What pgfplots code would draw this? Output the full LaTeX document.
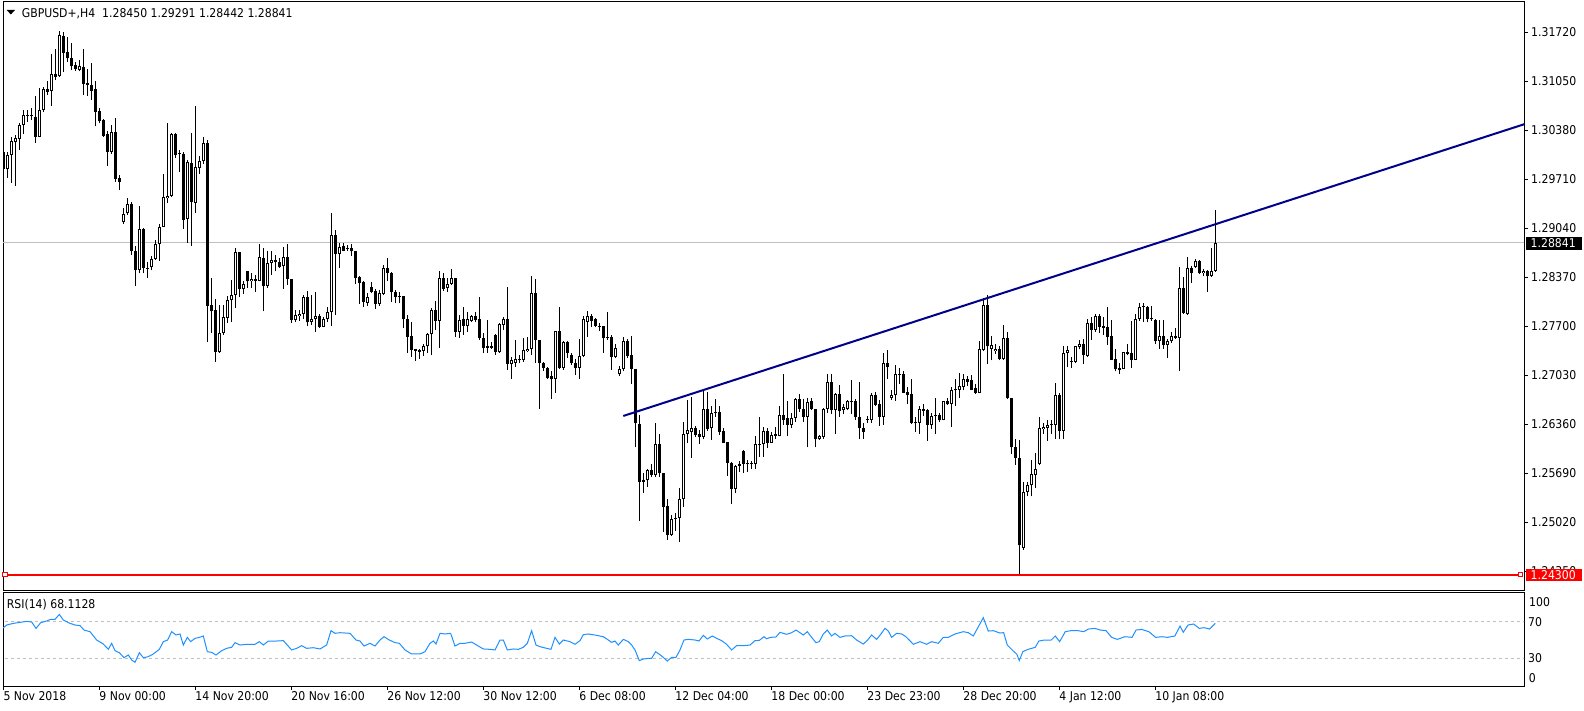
\documentclass[border=0pt]{standalone}
\usepackage{fontspec}
\usepackage{pgfplots}
\usepackage{pgfplotstable}
\pgfplotsset{compat=1.18}
\newfontfamily\labfam{DejaVu Sans Condensed}
\newcommand\labf{\labfam\fontsize{12.1pt}{14pt}\selectfont}
\definecolor{trend}{RGB}{0,0,139}
\definecolor{rsiblue}{RGB}{30,144,255}
\definecolor{silv}{RGB}{192,192,192}

\pgfplotstableread{
i O H L C
0 1.3008 1.3015 1.2983 1.2985
1 1.2985 1.3008 1.2973 1.3004
2 1.3004 1.3028 1.2966 1.3023
3 1.3022 1.3031 1.2962 1.3027
4 1.3026 1.3047 1.3011 1.3045
5 1.3045 1.3065 1.3033 1.3058
6 1.3059 1.3065 1.3049 1.3057
7 1.3059 1.3068 1.3052 1.3057
8 1.3056 1.3084 1.3020 1.3029
9 1.3029 1.3095 1.3028 1.3066
10 1.3066 1.3097 1.3062 1.3094
11 1.3094 1.3105 1.3086 1.3090
12 1.3091 1.3142 1.3071 1.3114
13 1.3114 1.3149 1.3106 1.3111
14 1.3112 1.3173 1.3110 1.3168
15 1.3167 1.3172 1.3117 1.3143
16 1.3145 1.3165 1.3131 1.3136
17 1.3137 1.3157 1.3120 1.3126
18 1.3127 1.3131 1.3119 1.3122
19 1.3120 1.3134 1.3118 1.3125
20 1.3124 1.3149 1.3086 1.3101
21 1.3102 1.3122 1.3085 1.3100
22 1.3100 1.3129 1.3079 1.3092
23 1.3094 1.3105 1.3043 1.3063
24 1.3064 1.3068 1.3047 1.3050
25 1.3051 1.3053 1.3029 1.3030
26 1.3032 1.3036 1.2989 1.3008
27 1.3008 1.3045 1.3005 1.3035
28 1.3035 1.3055 1.2967 1.2971
29 1.2972 1.2976 1.2956 1.2967
30 1.2912 1.2931 1.2910 1.2923
31 1.2924 1.2945 1.2922 1.2937
32 1.2937 1.2940 1.2867 1.2872
33 1.2873 1.2880 1.2825 1.2847
34 1.2847 1.2934 1.2842 1.2903
35 1.2903 1.2904 1.2842 1.2849
36 1.2850 1.2857 1.2836 1.2848
37 1.2850 1.2866 1.2846 1.2862
38 1.2862 1.2888 1.2860 1.2882
39 1.2882 1.2910 1.2859 1.2906
40 1.2906 1.2978 1.2905 1.2946
41 1.2945 1.3047 1.2938 1.2948
42 1.2948 1.3034 1.2947 1.3033
43 1.3032 1.3034 1.3000 1.3004
44 1.3006 1.3011 1.2980 1.3005
45 1.3005 1.3008 1.2903 1.2915
46 1.2916 1.2997 1.2884 1.2994
47 1.2993 1.3034 1.2880 1.2939
48 1.2938 1.3071 1.2924 1.2987
49 1.2986 1.3002 1.2978 1.2996
50 1.2995 1.3029 1.2992 1.3020
51 1.3020 1.3024 1.2748 1.2798
52 1.2799 1.2836 1.2761 1.2790
53 1.2792 1.2807 1.2721 1.2734
54 1.2734 1.2799 1.2733 1.2760
55 1.2760 1.2799 1.2758 1.2783
56 1.2781 1.2811 1.2774 1.2806
57 1.2805 1.2833 1.2775 1.2813
58 1.2813 1.2876 1.2795 1.2871
59 1.2871 1.2871 1.2809 1.2821
60 1.2821 1.2832 1.2814 1.2827
61 1.2845 1.2845 1.2822 1.2831
62 1.2831 1.2842 1.2822 1.2834
63 1.2834 1.2840 1.2817 1.2832
64 1.2832 1.2882 1.2831 1.2864
65 1.2863 1.2877 1.2790 1.2825
66 1.2825 1.2873 1.2822 1.2856
67 1.2856 1.2872 1.2840 1.2860
68 1.2860 1.2867 1.2845 1.2857
69 1.2858 1.2863 1.2849 1.2851
70 1.2852 1.2878 1.2821 1.2864
71 1.2864 1.2882 1.2826 1.2834
72 1.2834 1.2834 1.2774 1.2778
73 1.2778 1.2792 1.2775 1.2785
74 1.2784 1.2792 1.2777 1.2787
75 1.2787 1.2812 1.2780 1.2809
76 1.2809 1.2818 1.2770 1.2775
77 1.2775 1.2812 1.2772 1.2779
78 1.2779 1.2816 1.2762 1.2784
79 1.2784 1.2787 1.2767 1.2769
80 1.2769 1.2783 1.2768 1.2780
81 1.2780 1.2796 1.2776 1.2789
82 1.2789 1.2925 1.2770 1.2894
83 1.2894 1.2901 1.2785 1.2869
84 1.2869 1.2883 1.2849 1.2878
85 1.2879 1.2883 1.2872 1.2873
86 1.2877 1.2881 1.2873 1.2875
87 1.2877 1.2882 1.2866 1.2872
88 1.2873 1.2873 1.2828 1.2836
89 1.2837 1.2838 1.2800 1.2829
90 1.2830 1.2831 1.2796 1.2803
91 1.2802 1.2815 1.2798 1.2809
92 1.2823 1.2830 1.2815 1.2817
93 1.2818 1.2820 1.2793 1.2800
94 1.2800 1.2819 1.2798 1.2815
95 1.2814 1.2853 1.2812 1.2850
96 1.2849 1.2863 1.2831 1.2843
97 1.2843 1.2844 1.2803 1.2816
98 1.2817 1.2819 1.2801 1.2809
99 1.2811 1.2816 1.2801 1.2810
100 1.2811 1.2811 1.2767 1.2779
101 1.2779 1.2785 1.2733 1.2755
102 1.2756 1.2776 1.2728 1.2737
103 1.2738 1.2739 1.2722 1.2736
104 1.2737 1.2739 1.2725 1.2735
105 1.2736 1.2745 1.2729 1.2743
106 1.2742 1.2760 1.2733 1.2759
107 1.2759 1.2794 1.2730 1.2792
108 1.2792 1.2804 1.2765 1.2777
109 1.2777 1.2845 1.2740 1.2835
110 1.2835 1.2842 1.2818 1.2821
111 1.2822 1.2835 1.2817 1.2828
112 1.2828 1.2848 1.2826 1.2835
113 1.2835 1.2836 1.2755 1.2762
114 1.2762 1.2785 1.2753 1.2778
115 1.2780 1.2796 1.2758 1.2770
116 1.2770 1.2789 1.2762 1.2780
117 1.2777 1.2785 1.2776 1.2784
118 1.2784 1.2789 1.2776 1.2778
119 1.2779 1.2809 1.2751 1.2753
120 1.2754 1.2760 1.2733 1.2740
121 1.2743 1.2778 1.2733 1.2740
122 1.2743 1.2748 1.2739 1.2740
123 1.2758 1.2759 1.2731 1.2734
124 1.2734 1.2774 1.2733 1.2773
125 1.2772 1.2783 1.2765 1.2779
126 1.2779 1.2823 1.2710 1.2718
127 1.2718 1.2728 1.2698 1.2724
128 1.2720 1.2751 1.2714 1.2725
129 1.2723 1.2731 1.2719 1.2725
130 1.2723 1.2753 1.2721 1.2737
131 1.2736 1.2755 1.2734 1.2739
132 1.2739 1.2838 1.2730 1.2815
133 1.2815 1.2834 1.2719 1.2751
134 1.2751 1.2751 1.2657 1.2719
135 1.2719 1.2721 1.2708 1.2713
136 1.2713 1.2714 1.2698 1.2699
137 1.2701 1.2708 1.2670 1.2697
138 1.2697 1.2763 1.2679 1.2763
139 1.2763 1.2796 1.2711 1.2712
140 1.2712 1.2750 1.2710 1.2748
141 1.2748 1.2750 1.2726 1.2733
142 1.2731 1.2733 1.2717 1.2720
143 1.2720 1.2725 1.2703 1.2713
144 1.2713 1.2752 1.2698 1.2729
145 1.2729 1.2784 1.2728 1.2780
146 1.2776 1.2790 1.2755 1.2784
147 1.2784 1.2786 1.2769 1.2777
148 1.2780 1.2781 1.2768 1.2770
149 1.2770 1.2774 1.2763 1.2769
150 1.2770 1.2770 1.2733 1.2753
151 1.2755 1.2789 1.2751 1.2754
152 1.2755 1.2758 1.2710 1.2728
153 1.2728 1.2746 1.2726 1.2740
154 1.2704 1.2715 1.2701 1.2711
155 1.2711 1.2755 1.2709 1.2750
156 1.2750 1.2752 1.2726 1.2729
157 1.2730 1.2756 1.2691 1.2711
158 1.2711 1.2711 1.2604 1.2637
159 1.2636 1.2649 1.2504 1.2557
160 1.2559 1.2569 1.2542 1.2557
161 1.2559 1.2575 1.2550 1.2573
162 1.2573 1.2581 1.2564 1.2566
163 1.2566 1.2638 1.2564 1.2609
164 1.2609 1.2623 1.2564 1.2569
165 1.2569 1.2569 1.2489 1.2523
166 1.2524 1.2533 1.2478 1.2484
167 1.2484 1.2512 1.2483 1.2506
168 1.2506 1.2514 1.2490 1.2508
169 1.2508 1.2549 1.2475 1.2534
170 1.2533 1.2639 1.2523 1.2622
171 1.2622 1.2669 1.2610 1.2628
172 1.2625 1.2673 1.2590 1.2631
173 1.2631 1.2633 1.2618 1.2621
174 1.2622 1.2628 1.2609 1.2618
175 1.2618 1.2683 1.2615 1.2656
176 1.2656 1.2680 1.2627 1.2629
177 1.2630 1.2660 1.2614 1.2651
178 1.2651 1.2670 1.2646 1.2652
179 1.2652 1.2660 1.2621 1.2625
180 1.2626 1.2631 1.2610 1.2610
181 1.2611 1.2612 1.2565 1.2583
182 1.2583 1.2584 1.2527 1.2547
183 1.2547 1.2580 1.2541 1.2579
184 1.2581 1.2585 1.2571 1.2579
185 1.2599 1.2600 1.2569 1.2581
186 1.2582 1.2587 1.2571 1.2581
187 1.2581 1.2586 1.2574 1.2583
188 1.2582 1.2620 1.2575 1.2608
189 1.2607 1.2645 1.2591 1.2609
190 1.2608 1.2632 1.2591 1.2626
191 1.2626 1.2631 1.2603 1.2610
192 1.2610 1.2625 1.2610 1.2621
193 1.2620 1.2632 1.2616 1.2622
194 1.2620 1.2661 1.2619 1.2648
195 1.2648 1.2704 1.2635 1.2641
196 1.2644 1.2668 1.2619 1.2635
197 1.2634 1.2651 1.2630 1.2644
198 1.2644 1.2672 1.2639 1.2670
199 1.2670 1.2677 1.2653 1.2656
200 1.2656 1.2670 1.2639 1.2646
201 1.2646 1.2672 1.2604 1.2666
202 1.2667 1.2672 1.2655 1.2657
203 1.2657 1.2657 1.2604 1.2615
204 1.2615 1.2621 1.2614 1.2619
205 1.2618 1.2658 1.2616 1.2657
206 1.2656 1.2704 1.2651 1.2694
207 1.2694 1.2704 1.2650 1.2655
208 1.2655 1.2679 1.2622 1.2677
209 1.2677 1.2689 1.2646 1.2654
210 1.2655 1.2663 1.2650 1.2659
211 1.2657 1.2669 1.2655 1.2667
212 1.2667 1.2696 1.2650 1.2666
213 1.2667 1.2670 1.2642 1.2645
214 1.2645 1.2693 1.2616 1.2630
215 1.2630 1.2637 1.2616 1.2625
216 1.2642 1.2647 1.2638 1.2641
217 1.2641 1.2678 1.2638 1.2676
218 1.2676 1.2680 1.2660 1.2662
219 1.2663 1.2669 1.2633 1.2646
220 1.2646 1.2733 1.2635 1.2720
221 1.2720 1.2737 1.2697 1.2714
222 1.2672 1.2683 1.2669 1.2676
223 1.2675 1.2717 1.2668 1.2704
224 1.2703 1.2712 1.2691 1.2704
225 1.2704 1.2708 1.2678 1.2679
226 1.2680 1.2687 1.2663 1.2676
227 1.2677 1.2697 1.2636 1.2638
228 1.2638 1.2645 1.2625 1.2637
229 1.2638 1.2660 1.2623 1.2656
230 1.2654 1.2663 1.2647 1.2656
231 1.2655 1.2656 1.2613 1.2635
232 1.2635 1.2651 1.2629 1.2647
233 1.2647 1.2672 1.2622 1.2648
234 1.2648 1.2651 1.2639 1.2641
235 1.2641 1.2668 1.2641 1.2667
236 1.2667 1.2671 1.2662 1.2663
237 1.2664 1.2686 1.2632 1.2682
238 1.2682 1.2698 1.2661 1.2683
239 1.2683 1.2706 1.2672 1.2688
240 1.2687 1.2704 1.2682 1.2697
241 1.2697 1.2701 1.2688 1.2694
242 1.2696 1.2703 1.2682 1.2683
243 1.2685 1.2691 1.2677 1.2679
244 1.2679 1.2749 1.2678 1.2738
245 1.2737 1.2808 1.2736 1.2799
246 1.2799 1.2812 1.2718 1.2742
247 1.2738 1.2756 1.2723 1.2744
248 1.2736 1.2745 1.2732 1.2739
249 1.2739 1.2742 1.2723 1.2725
250 1.2725 1.2771 1.2724 1.2753
251 1.2753 1.2762 1.2670 1.2671
252 1.2671 1.2672 1.2595 1.2604
253 1.2604 1.2615 1.2580 1.2590
254 1.2590 1.2614 1.2430 1.2470
255 1.2466 1.2557 1.2464 1.2543
256 1.2543 1.2557 1.2537 1.2552
257 1.2552 1.2587 1.2537 1.2568
258 1.2566 1.2597 1.2549 1.2575
259 1.2581 1.2645 1.2580 1.2630
260 1.2629 1.2638 1.2623 1.2632
261 1.2631 1.2642 1.2613 1.2635
262 1.2634 1.2641 1.2623 1.2636
263 1.2634 1.2692 1.2616 1.2676
264 1.2676 1.2678 1.2615 1.2627
265 1.2627 1.2743 1.2615 1.2733
266 1.2733 1.2743 1.2714 1.2737
267 1.2722 1.2728 1.2713 1.2721
268 1.2721 1.2743 1.2719 1.2742
269 1.2741 1.2751 1.2738 1.2745
270 1.2745 1.2752 1.2718 1.2730
271 1.2729 1.2780 1.2728 1.2774
272 1.2774 1.2782 1.2751 1.2765
273 1.2765 1.2787 1.2762 1.2784
274 1.2784 1.2787 1.2761 1.2769
275 1.2770 1.2783 1.2758 1.2767
276 1.2768 1.2796 1.2744 1.2755
277 1.2756 1.2778 1.2723 1.2724
278 1.2725 1.2738 1.2708 1.2711
279 1.2712 1.2719 1.2705 1.2710
280 1.2711 1.2735 1.2711 1.2734
281 1.2734 1.2746 1.2730 1.2732
282 1.2733 1.2777 1.2713 1.2724
283 1.2724 1.2787 1.2723 1.2780
284 1.2780 1.2802 1.2777 1.2796
285 1.2796 1.2801 1.2776 1.2797
286 1.2796 1.2797 1.2775 1.2780
287 1.2781 1.2797 1.2777 1.2779
288 1.2778 1.2780 1.2746 1.2749
289 1.2749 1.2778 1.2738 1.2756
290 1.2756 1.2778 1.2739 1.2744
291 1.2744 1.2752 1.2726 1.2750
292 1.2749 1.2762 1.2747 1.2756
293 1.2754 1.2767 1.2752 1.2756
294 1.2754 1.2850 1.2708 1.2822
295 1.2822 1.2837 1.2787 1.2788
296 1.2786 1.2864 1.2785 1.2849
297 1.2849 1.2852 1.2829 1.2843
298 1.2851 1.2861 1.2849 1.2859
299 1.2859 1.2860 1.2841 1.2842
300 1.2842 1.2848 1.2838 1.2845
301 1.2845 1.2847 1.2817 1.2838
302 1.2838 1.2876 1.2837 1.2845
303 1.28450 1.29291 1.28442 1.28841
}\candles

\pgfplotstableread{
i v
-0.16 62.8
0.84 66.4
2.51 68.2
4.18 69.3
5.84 70.4
7.09 69.7
8.18 62.7
9.34 68.9
10.84 70.8
11.84 72.6
12.93 72.6
14.01 78.0
15.01 71.9
16.68 68.2
17.93 66.4
19.18 65.7
20.18 60.9
21.68 59.1
23.34 50.0
25.01 45.6
26.26 39.8
27.09 46.4
27.93 38.3
29.01 36.1
30.18 30.7
31.26 33.6
32.09 28.1
32.93 25.6
34.01 36.1
35.01 30.7
36.26 31.8
37.51 34.7
39.01 39.8
40.01 48.2
41.09 50.0
42.09 59.1
43.18 55.5
44.18 56.6
45.01 44.5
46.01 52.9
46.84 48.2
47.93 51.8
49.01 52.9
50.01 54.4
51.01 37.2
52.09 36.5
53.18 33.6
54.59 38.3
55.84 40.9
57.09 42.0
57.93 47.1
59.18 44.5
60.84 45.3
62.93 45.3
64.01 48.2
65.01 44.5
66.26 48.9
68.34 48.9
70.01 49.3
72.09 39.1
73.34 40.9
74.59 43.8
75.84 40.9
77.51 41.6
79.18 40.2
80.84 44.5
81.93 60.2
82.93 57.3
84.18 58.0
86.68 57.3
88.18 50.0
89.18 48.9
90.18 43.4
91.68 46.4
92.93 43.4
94.18 50.0
95.18 53.6
96.51 50.0
97.93 47.1
99.01 46.4
100.43 39.1
102.09 34.7
104.18 34.7
105.43 37.2
106.68 46.4
107.51 48.9
108.18 45.6
109.18 57.3
110.43 56.6
111.84 57.3
112.93 43.4
114.18 46.4
115.43 46.4
117.09 47.8
118.34 44.5
120.01 40.2
121.68 39.8
122.93 39.1
124.18 50.0
125.01 50.0
126.01 39.1
127.51 40.2
128.76 39.8
130.01 42.0
131.01 46.4
132.09 60.2
133.18 44.5
134.18 42.7
135.84 40.9
136.93 39.8
137.93 52.9
139.01 45.6
140.01 50.0
141.68 48.2
142.93 45.3
144.18 49.3
145.01 55.8
146.26 56.6
148.34 55.1
150.01 53.6
151.26 50.0
152.09 47.4
152.93 48.9
153.76 44.5
155.01 50.7
156.26 48.2
157.09 44.5
157.93 39.1
159.01 27.4
160.01 29.2
161.26 29.9
162.09 29.9
163.09 37.2
164.18 33.9
165.01 31.0
166.01 27.0
167.09 31.0
168.18 31.0
169.18 39.1
170.18 50.0
171.26 50.7
172.93 50.0
173.93 48.9
175.01 55.1
176.01 51.1
177.26 54.4
178.34 51.8
179.59 49.3
180.84 45.3
182.09 39.1
183.34 43.8
185.01 43.8
186.68 44.5
187.93 49.3
189.01 49.6
190.18 53.6
190.84 51.4
191.84 52.9
193.18 53.3
194.18 58.4
195.84 56.2
197.09 58.0
198.18 60.9
199.18 58.0
200.01 55.5
201.01 59.1
202.09 52.9
203.18 47.1
204.01 48.2
205.01 56.6
206.01 60.9
207.09 54.4
207.93 57.3
209.18 52.9
210.43 54.4
212.09 54.7
213.34 50.0
215.01 45.6
216.09 50.0
217.09 55.5
218.34 50.7
219.43 56.6
220.43 62.8
221.26 59.8
222.09 52.9
223.34 57.3
224.59 56.6
225.68 53.6
227.51 45.3
229.18 48.2
230.84 45.3
232.09 48.2
233.76 46.4
235.01 52.9
236.26 52.9
237.93 56.6
240.01 59.1
241.26 58.0
242.51 54.4
244.01 66.4
245.01 74.4
246.26 59.8
247.51 60.2
249.18 57.6
250.1 58.1
251.0 44.5
252.4 38.4
253.4 34.4
254.0 27.5
254.9 37.3
256.2 39.8
258.0 42.0
258.9 48.9
260.3 50.0
262.0 50.0
263.0 54.4
264.1 48.2
265.5 59.1
266.9 60.2
268.7 60.2
270.1 59.1
271.3 62.0
272.9 62.7
274.3 60.9
275.7 60.2
277.1 52.9
278.5 50.7
280.4 53.6
282.2 52.9
283.2 60.9
284.6 61.6
286.4 59.1
288.1 52.9
289.7 53.6
291.1 52.9
292.9 54.4
294.2 65.3
295.0 58.4
296.2 66.4
297.6 67.5
299.0 62.7
300.2 63.5
301.6 62.0
303 68.1128
}\rsi

\begin{document}
\begin{tikzpicture}
\useasboundingbox (0,0) rectangle (1584pt,710pt);
\begin{axis}[
  at={(3pt,120pt)}, anchor=south west,
  width=1521pt, height=588pt, scale only axis,
  xmin=-0.075, xmax=380.2, ymin=1.240904, ymax=1.321302,
  axis line style={line width=1pt, black},
  xtick=\empty,
  ytick={1.2435,1.2502,1.2569,1.2636,1.2703,1.2770,1.2837,1.2904,1.2971,1.3038,1.3105,1.3172},
  ytick pos=right, yticklabel pos=right,
  tick align=outside, major tick length=4pt,
  ytick style={line width=1pt, black},
  yticklabel style={anchor=west, inner sep=0pt, xshift=3pt, font=\labf, text=black},
  yticklabel={\pgfmathprintnumber[fixed,fixed zerofill,precision=5]{\tick}},
  /pgf/number format/assume math mode=true,
]
\addplot[silv, line width=1pt, forget plot] coordinates {(-1,1.28841) (381,1.28841)};
% wicks
\addplot[draw=none, mark=none, forget plot, error bars/.cd, y dir=plus, y explicit, error mark=none,
  error bar style={draw=black, line width=1pt, line cap=butt}]
  table[x=i, y=L, y error expr=\thisrow{H}-\thisrow{L}] {\candles};
% bodies
\addplot[draw=none, mark=none, forget plot, error bars/.cd, y dir=plus, y explicit, error mark=none,
  error bar style={draw=black, line width=3pt, line cap=butt}]
  table[x=i, y expr={min(\thisrow{O},\thisrow{C})}, y error expr={max(abs(\thisrow{C}-\thisrow{O}),0.00014)}] {\candles};
% hollow interior of rising candles
\addplot[draw=none, mark=none, forget plot, error bars/.cd, y dir=plus, y explicit, error mark=none,
  error bar style={draw=white, line width=1pt, line cap=butt}]
  table[x=i, y expr={\thisrow{O}+0.000137}, y error expr={max(\thisrow{C}-\thisrow{O}-0.000274,0)}] {\candles};
% trend line
\addplot[trend, line width=2pt, forget plot] coordinates {(155,1.2647) (380.3,1.3046)};
% support line
\addplot[red, line width=2pt, mark=square*, mark size=2.3pt, mark options={fill=white, draw=red, line width=1pt}, forget plot]
  coordinates {(0.43,1.2430) (379.35,1.2430)};
\end{axis}

\begin{axis}[
  at={(3pt,24pt)}, anchor=south west,
  width=1521pt, height=94pt, scale only axis,
  xmin=-0.075, xmax=380.2, ymin=-0.3, ymax=102.5,
  axis line style={line width=1pt, black},
  xtick={0,24,48,72,96,120,144,168,192,216,240,264,288},
  xticklabels={5 Nov 2018,9 Nov 00:00,14 Nov 20:00,20 Nov 16:00,26 Nov 12:00,30 Nov 12:00,6 Dec 08:00,12 Dec 04:00,18 Dec 00:00,23 Dec 23:00,28 Dec 20:00,4 Jan 12:00,10 Jan 08:00},
  xtick pos=left, tick align=outside, major tick length=4pt,
  xtick style={line width=1pt, black},
  xticklabel style={anchor=north west, inner sep=0pt, yshift=-1.5pt, font=\labf, text=black},
  ytick={30,70}, ytick pos=right, yticklabel pos=right,
  ytick style={draw=none},
  yticklabel style={anchor=west, inner sep=0pt, font=\labf, text=black},
  /pgf/number format/assume math mode=true,
]
\addplot[silv, line width=1pt, dash pattern=on 3pt off 3pt, forget plot] coordinates {(-1,70) (381,70)};
\addplot[silv, line width=1pt, dash pattern=on 3pt off 3pt, forget plot] coordinates {(-1,30) (381,30)};
\addplot[rsiblue, line width=1pt, forget plot] table[x=i, y=v] {\rsi};
\end{axis}

% title and labels
\fill (6.7pt,700pt) -- (15pt,700pt) -- (10.85pt,695.5pt) -- cycle;
\node[anchor=base west, inner sep=0pt, font=\labf] at (21.7pt,692.7pt) {GBPUSD+,H4\ \ 1.28450 1.29291 1.28442 1.28841};
\node[anchor=base west, inner sep=0pt, font=\labf] at (6.7pt,101.9pt) {RSI(14) 68.1128};
\node[anchor=base west, inner sep=0pt, font=\labf] at (1529pt,103.9pt) {100};
\node[anchor=base west, inner sep=0pt, font=\labf] at (1528.7pt,27.3pt) {0};
\fill[black] (1526pt,460pt) rectangle (1582pt,473.3pt);
\node[anchor=base west, inner sep=0pt, font=\labf, text=white] at (1530.5pt,462.3pt) {1.28841};
\fill[red] (1526pt,128.7pt) rectangle (1582pt,140.7pt);
\node[anchor=base west, inner sep=0pt, font=\labf, text=white] at (1530.5pt,130.3pt) {1.24300};
\end{tikzpicture}
\end{document}
